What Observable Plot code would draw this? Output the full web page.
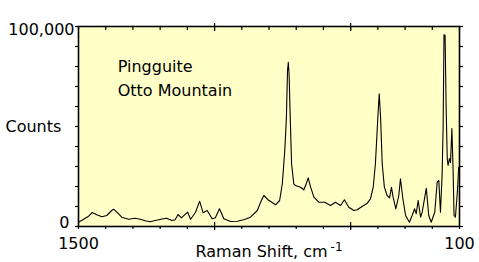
<!DOCTYPE html>
<html>
<head>
<meta charset="utf-8">
<script src="https://cdn.jsdelivr.net/npm/d3@7"></script>
<script src="https://cdn.jsdelivr.net/npm/@observablehq/plot@0.6"></script>
<style>
  html, body { margin: 0; padding: 0; background: #ffffff; }
</style>
</head>
<body>
<div id="chart"></div>
<script>
// Raman shift (cm-1) and counts
const shift = [1500,1489,1463,1449,1433,1414,1396,1378,1371,1359,1341,1316,1292,1273,1255,1237,1218,1188,1176,1157,1145,1134,1122,1099,1088,1070,1055,1042,1027,1009,997,982,966,941,917,893,868,843,828,819,801,776,761,751,742,736,732,729,726,722,717,709,703,684,672,663,656,647,635,617,595,574,556,537,523,507,488,476,458,439,427,417,409,400,395,390,384,376,366,357,350,344,334,323,317,308,298,284,274,265,259,252,243,237,222,213,204,191,182,176,170,164,160,157,153,149,145,142,137,133,128,124,120,115,108,103,100];
const counts = [2150,3000,5150,7000,5850,4850,5500,8000,8650,7150,4650,3650,4150,3650,2850,2350,3000,3850,4150,3000,3350,6000,4350,7150,3650,7150,12650,6850,8000,3850,4350,8850,3850,2500,2650,3350,4650,8000,13000,15500,13100,10850,13000,21500,38000,54650,78000,82150,75500,54650,31350,21350,20500,19650,18350,21350,24350,19650,14650,12150,12150,10500,12150,10500,13350,9650,8000,8350,10000,11650,13850,19650,31350,54650,66350,54650,31350,19650,15500,14350,19650,14650,8850,15500,23850,13850,5500,2150,5500,8850,6350,13000,4650,7150,19150,5500,2150,7150,22150,23000,7150,25500,50500,95850,95500,59000,34000,30500,34000,32000,49000,30500,5500,4650,17150,29650,28000];

// Axis ticks
const xMinorTicks = d3.range(1500, 99, -100);
const xMajorTicks = [1000, 500];
const xLabelTicks = [1500, 100];
const yTicks = d3.range(0, 100001, 10000);
const yLabelTop = [100000];
const yLabelBottom = [0];

// Texts
const annotationLines = ["Pingguite", "Otto Mountain"];
const annotationShift = [1356, 1356];
const annotationCounts = [80000, 67700];
const xTitleMain = "Raman Shift, cm";
const xTitleSup = "-1";
const yTitle = "Counts";

const spectrum = shift.map((s, i) => ({shift: s, counts: counts[i]}));
const notes = annotationLines.map((t, i) => ({text: t, shift: annotationShift[i], counts: annotationCounts[i]}));

const blank = () => "";

const chart = Plot.plot({
  width: 479,
  height: 262,
  marginLeft: 78,
  marginRight: 20,
  marginTop: 26,
  marginBottom: 36,
  style: {fontFamily: "'DejaVu Sans', sans-serif", fontSize: "16px", background: "#ffffff", color: "#000000"},
  x: {domain: [1500, 100], label: null},
  y: {domain: [0, 100000], label: null},
  marks: [
    Plot.frame({fill: "#ffffc8", stroke: "none"}),
    Plot.line(spectrum, {x: "shift", y: "counts", stroke: "#000000", strokeWidth: 1.1}),
    Plot.frame({stroke: "#000000", strokeWidth: 1.6}),
    // bottom axis ticks
    Plot.axisX({anchor: "bottom", ticks: xMinorTicks, tickSize: 3, tickFormat: blank, strokeWidth: 1.2}),
    Plot.axisX({anchor: "bottom", ticks: xMajorTicks, tickSize: 4, tickFormat: blank, strokeWidth: 1.2}),
    Plot.axisX({anchor: "bottom", ticks: xMajorTicks, tickSize: -4, tickFormat: blank, strokeWidth: 1.2}),
    Plot.axisX({anchor: "bottom", ticks: xLabelTicks, tickSize: 0, tickPadding: 11, tickFormat: d3.format("d"), fontSize: 16}),
    // top axis ticks
    Plot.axisX({anchor: "top", ticks: xMinorTicks, tickSize: -3, tickFormat: blank, strokeWidth: 1.2}),
    Plot.axisX({anchor: "top", ticks: xMajorTicks, tickSize: 4, tickFormat: blank, strokeWidth: 1.2}),
    Plot.axisX({anchor: "top", ticks: xMajorTicks, tickSize: -4, tickFormat: blank, strokeWidth: 1.2}),
    // left / right axis ticks
    Plot.axisY({anchor: "left", ticks: yTicks, tickSize: 3, tickFormat: blank, strokeWidth: 1.2}),
    Plot.axisY({anchor: "right", ticks: yTicks, tickSize: 3, tickFormat: blank, strokeWidth: 1.2}),
    Plot.axisY({anchor: "left", ticks: yLabelTop, tickSize: 0, tickPadding: 4, dy: 3, tickFormat: d3.format(","), fontSize: 16}),
    Plot.axisY({anchor: "left", ticks: yLabelBottom, tickSize: 0, tickPadding: 9, dy: -4, tickFormat: d3.format(","), fontSize: 16}),
    // axis titles
    Plot.text([yTitle], {frameAnchor: "left", dx: -73, textAnchor: "start", fontSize: 16}),
    Plot.text([xTitleMain], {frameAnchor: "bottom", lineAnchor: "top", dy: 19, fontSize: 16, className: "xtitle"}),
    // annotation
    Plot.text(notes, {x: "shift", y: "counts", text: "text", textAnchor: "start", fontSize: 16})
  ]
});

// add the superscript "-1" to the x-axis title as a real tspan
d3.select(chart).selectAll("g.xtitle text").each(function() {
  d3.select(this).append("tspan")
    .attr("dx", "3")
    .attr("dy", "-0.45em")
    .attr("font-size", "12px")
    .text(xTitleSup);
});

document.getElementById("chart").appendChild(chart);
</script>
</body>
</html>
